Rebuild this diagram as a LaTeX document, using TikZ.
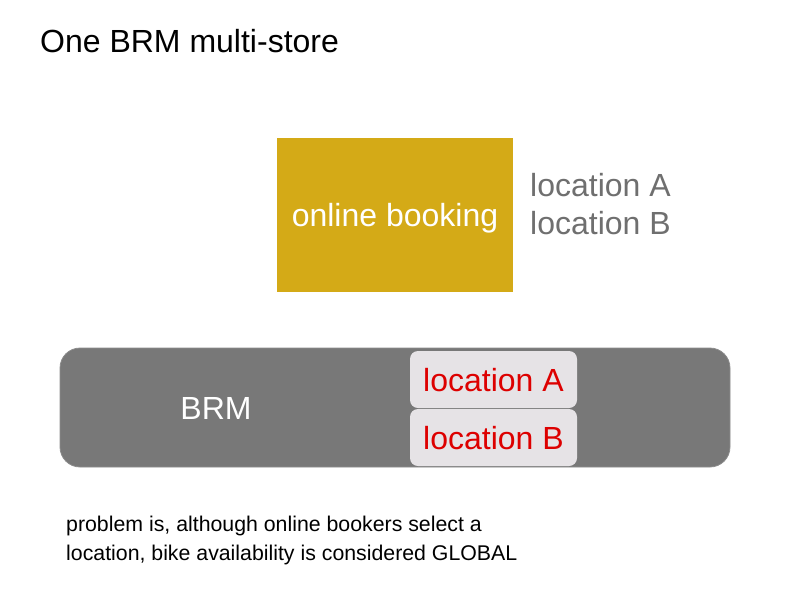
\documentclass[tikz,border=0pt]{standalone}
\usepackage{fontspec}
\setmainfont{Liberation Sans}
\definecolor{gold}{HTML}{D4AA17}
\definecolor{bargray}{HTML}{787878}
\definecolor{barline}{HTML}{8C8C8C}
\definecolor{locbox}{HTML}{E6E3E6}
\definecolor{locred}{HTML}{DD0000}
\definecolor{locgray}{HTML}{6F6F6F}
\tikzset{
  big/.style={font=\fontsize{32}{38}\selectfont, inner sep=0pt},
  small/.style={font=\fontsize{21.3}{29}\selectfont, inner sep=0pt},
  locbtn/.style={big, fill=locbox, rounded corners=8pt, minimum width=167pt, minimum height=57pt, text=locred, text height=23.3pt, text depth=0pt},
}
\begin{document}
\begin{tikzpicture}[x=1pt,y=-1pt]
\useasboundingbox (0,0) rectangle (800,600);
\node[big, anchor=base west] (title) at (40,52.5) {One BRM multi-store};
\node[big, fill=gold, text=white, minimum width=236pt, minimum height=154pt, text height=23.3pt, text depth=0pt] (ob) at (395,215) {online booking};
\node[big, anchor=base west, text=locgray] (la) at (530,196) {location A};
\node[big, anchor=base west, text=locgray] (lb) at (530,234) {location B};
\node[fill=bargray, draw=barline, line width=0.8pt, rounded corners=20pt, minimum width=670pt, minimum height=119pt, inner sep=0pt] (brm) at (395,407.5) {};
\node[big, anchor=base, text=white] (brmlabel) at (216,419.5) {BRM};
\node[locbtn] (ba) at (493.5,379.5) {location A};
\node[locbtn] (bb) at (493.5,437.5) {location B};
\node[small, anchor=base west] (p1) at (66,531.6) {problem is, although online bookers select a};
\node[small, anchor=base west] (p2) at (66,560.6) {location, bike availability is considered GLOBAL};
\end{tikzpicture}
\end{document}
